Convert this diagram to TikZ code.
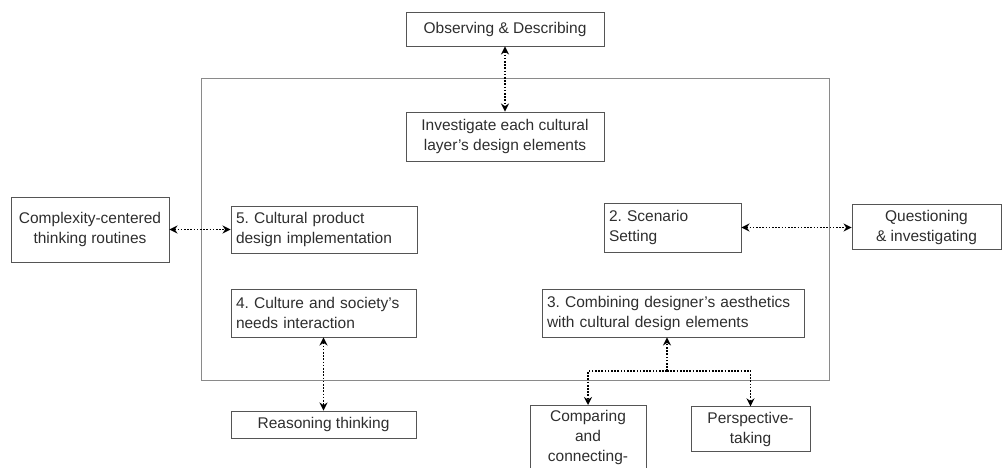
\documentclass[tikz,border=0pt]{standalone}
\usepackage{fontspec}
\setmainfont{Liberation Sans}
\usepackage{xcolor}
\usetikzlibrary{positioning, arrows.meta, calc}

\definecolor{boxgray}{HTML}{555555}
\definecolor{framegray}{HTML}{8A8A8A}
\definecolor{textgray}{HTML}{2E2E2E}

\tikzset{
    box/.style={draw=boxgray, line width=0.9pt, text=textgray, inner sep=5pt,
        font=\fontsize{15.5}{20}\selectfont, align=center},
    leftbox/.style={box, align=left},
    link/.style={line width=1.7pt, dash pattern=on 1.7pt off 1.5pt,
        {Stealth[length=8pt,width=8pt]}-{Stealth[length=8pt,width=8pt]}},
    halflink/.style={link, -{Stealth[length=8pt,width=8pt]}}
}

\begin{document}
\frenchspacing
\begin{tikzpicture}[x=1pt, y=-1pt]
            \useasboundingbox (0,0) rectangle (1002,468);
            \clip (0,0) rectangle (1002,468);

            % outer frame
            \draw[framegray, line width=1pt] (201,79) rectangle (829,380);

            % boxes inside the frame
            \node[box, minimum width=198pt, minimum height=49pt] (inv) at (505,136.5)
                {Investigate each cultural\\layer's design elements};
            \node[leftbox, text width=176pt, minimum height=47pt] (five) at (324,229.5)
                {5. Cultural product\\design implementation};
            \node[leftbox, text width=127pt, minimum height=49pt] (two) at (672.5,227.5)
                {2. Scenario\\Setting};
            \node[leftbox, text width=175pt, minimum height=48pt] (four) at (323.5,313)
                {4. Culture and society's\\needs interaction};
            \node[leftbox, text width=252pt, minimum height=48pt] (three) at (673,313)
                {3. Combining designer's aesthetics\\with cultural design elements};

            % thinking routines outside
            \node[box, minimum width=198pt, minimum height=34pt] (obs) at (505,29)
                {Observing \& Describing};
            \node[box, minimum width=158pt, minimum height=65pt] (cpx) at (90,229.5)
                {Complexity-centered\\thinking routines};
            \node[box, minimum width=149pt, minimum height=44pt] (que) at (926.5,227)
                {Questioning\\\& investigating};
            \node[box, minimum width=185pt, minimum height=27pt] (rea) at (323.5,424.5)
                {Reasoning thinking};
            \node[box, text width=106pt, anchor=north, inner sep=5pt] (cmp) at (588,405)
                {Comparing\\and\\connecting-};
            \node[box, minimum width=119pt, minimum height=44pt] (per) at (750.5,429)
                {Perspective-\\taking};

            % links
            \draw[link] (obs) -- (inv);
            \draw[link] (cpx) -- (five);
            \draw[link] (two.east) -- (que.west |- two.east);
            \draw[link] (four) -- (rea);

            \coordinate (fork) at (667,371);
            \draw[halflink] (fork) -- (fork |- three.south);
            \draw[halflink] (fork) -| (cmp.north);
            \draw[halflink] (fork) -| (per.north);
        \end{tikzpicture}
\end{document}
